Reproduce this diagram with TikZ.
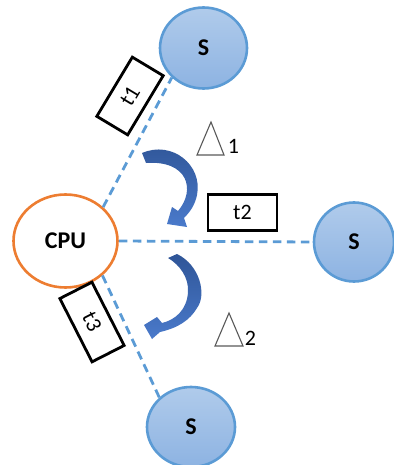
\documentclass[tikz,border=0pt]{standalone}
\usepackage{fontspec}
\setmainfont{Carlito}
\usetikzlibrary{shapes.geometric}
\definecolor{cpuorange}{HTML}{ED7D31}
\definecolor{sline}{HTML}{5B9BD5}
\definecolor{sfilltop}{HTML}{B0CBEB}
\definecolor{sfillbot}{HTML}{8DB3E2}
\definecolor{arrowdark}{HTML}{2F5597}
\definecolor{arrowlight}{HTML}{4A7ACB}
\definecolor{trigray}{HTML}{595959}
\begin{document}
\begin{tikzpicture}[x=1pt,y=-1pt,
  server/.style={ellipse, draw=sline, line width=2.6pt, top color=sfilltop,
    bottom color=sfillbot, inner sep=0pt,
    font=\fontsize{24}{24}\selectfont\bfseries},
  cpubox/.style={ellipse, draw=cpuorange, line width=2.6pt, fill=white,
    inner sep=0pt, minimum width=104pt, minimum height=93pt,
    font=\fontsize{24}{24}\selectfont\bfseries},
  link/.style={draw=sline, line width=2.8pt, dash pattern=on 8.5pt off 5.5pt},
  tbox/.style={draw=black, line width=2.8pt, fill=white, inner sep=0pt,
    minimum width=69pt, minimum height=36pt,
    font=\fontsize{22}{22}\selectfont},
  turn/.style={top color=arrowdark, bottom color=arrowlight, draw=none},
  delta/.style={draw=trigray, line width=1.1pt, line join=miter},
  idx/.style={font=\fontsize{22}{22}\selectfont, inner sep=0pt}
]
\useasboundingbox (0,0) rectangle (393,465);

% processor and the three servers
\node[cpubox] (cpu) at (65.5,241) {CPU};
\node[server, minimum width=87pt, minimum height=81pt] (s1) at (203.5,48) {S};
\node[server, minimum width=80pt, minimum height=79pt] (s2) at (354,242) {S};
\node[server, minimum width=88pt, minimum height=80pt] (s3) at (191,427) {S};

% dashed links from the processor to each server
\draw[link] (cpu.42) -- (s1.223.6);
\draw[link] (cpu.east) -- (s2.west);
\draw[link] (cpu.-43) -- (s3.137.7);

% transfer time boxes
\node[tbox, rotate=59] (t1) at (130,96) {t1};
\node[tbox] (t2) at (242.5,212.5) {t2};
\node[tbox, rotate=-63, minimum width=71pt] (t3) at (92,322) {t3};

% curved turn arrows
\shade[turn] (142,153) .. controls (172,140) and (203,165) .. (197,195)
  .. controls (195,205) and (190,212) .. (184,218)
  -- (187,227) -- (167,224) -- (172,207) -- (178,211)
  .. controls (196,190) and (188,160) .. (146,163) -- cycle;
\shade[turn] (168,258) -- (177,254) .. controls (200,265) and (207,295) .. (197,308)
  .. controls (190,320) and (178,328) .. (160,332)
  -- (152,339) -- (144,325) -- (157,317) -- (162,323)
  .. controls (175,320) and (187,310) .. (188,292)
  .. controls (189,278) and (180,265) .. (168,258) -- cycle;

% delta markers
\draw[delta] (211,122) -- (224,155) -- (197,155) -- cycle;
\node[idx] (d1) at (233.5,146) {1};
\draw[delta] (229,313) -- (243,346) -- (215,346) -- cycle;
\node[idx] (d2) at (250.5,338) {2};
\end{tikzpicture}
\end{document}
